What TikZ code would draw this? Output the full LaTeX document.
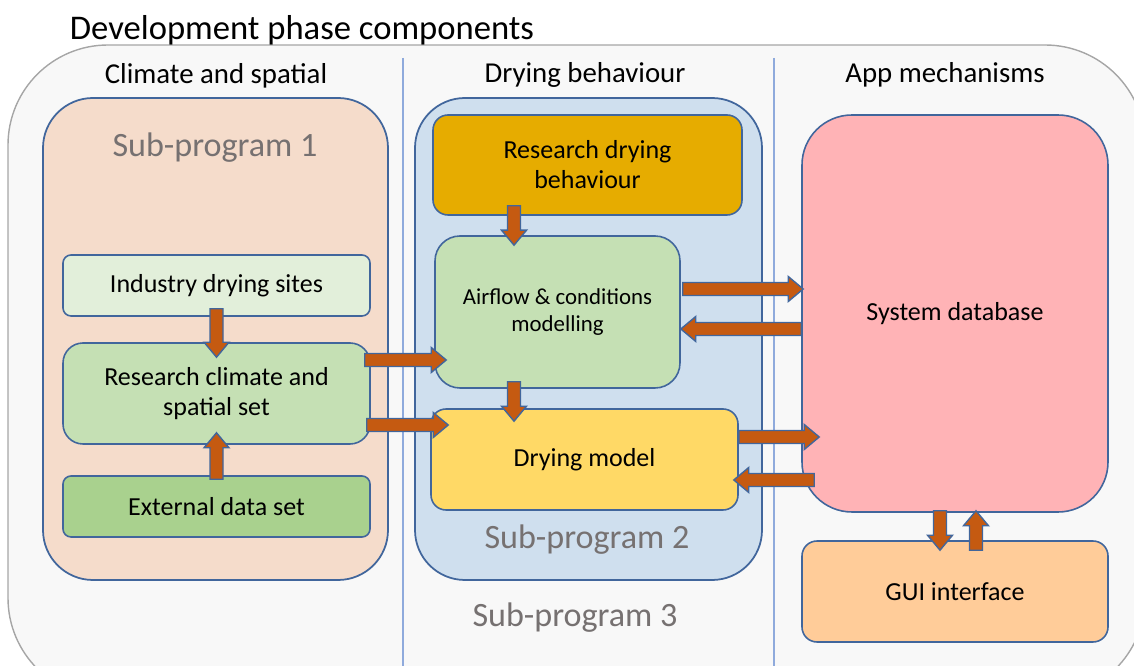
\documentclass[tikz,border=0pt]{standalone}
\usepackage{fontspec}
\setmainfont{Carlito}
\usetikzlibrary{calc}

\definecolor{outerfill}{HTML}{F8F8F8}
\definecolor{outerline}{HTML}{A6A6A6}
\definecolor{divline}{HTML}{8FAADC}
\definecolor{boxline}{HTML}{41669C}
\definecolor{spone}{HTML}{F5DCCB}
\definecolor{sptwo}{HTML}{CFDFEE}
\definecolor{lightgreen}{HTML}{E2EFDA}
\definecolor{midgreen}{HTML}{C5E0B4}
\definecolor{darkgreen}{HTML}{A9D18E}
\definecolor{gold}{HTML}{E6AC00}
\definecolor{paleyellow}{HTML}{FFD966}
\definecolor{pink}{HTML}{FFB3B6}
\definecolor{peach}{HTML}{FFCC99}
\definecolor{rust}{HTML}{C55A11}
\definecolor{labelgrey}{HTML}{767171}

\tikzstyle{panel}=[draw=boxline,line width=1pt,rounded corners=1cm,inner sep=0pt]
\tikzstyle{block}=[draw=boxline,line width=0.9pt,align=center,inner sep=0pt,font=\fontsize{14.8}{17}\selectfont]
\tikzstyle{header}=[font=\fontsize{16.4}{19}\selectfont]
\tikzstyle{sublabel}=[text=labelgrey,font=\fontsize{19.4}{23}\selectfont]
\tikzstyle{divider}=[draw=divline,line width=0.8pt]
\tikzstyle{arrowbody}=[fill=rust,draw=boxline,line width=0.8pt,line join=miter]

% fat block arrow from #1 to #2
\newcommand{\blockarrow}[2]{%
  \path[arrowbody] let \p1=#1, \p2=#2,
    \n1={atan2(\y2-\y1,\x2-\x1)}, \n2={veclen(\x2-\x1,\y2-\y1)} in
    ([shift={(\p1)},rotate=\n1]0pt,0.13cm) -- ([shift={(\p1)},rotate=\n1]\n2-0.3cm,0.13cm)
    -- ([shift={(\p1)},rotate=\n1]\n2-0.3cm,0.25cm) -- (\p2)
    -- ([shift={(\p1)},rotate=\n1]\n2-0.3cm,-0.25cm) -- ([shift={(\p1)},rotate=\n1]\n2-0.3cm,-0.13cm)
    -- ([shift={(\p1)},rotate=\n1]0pt,-0.13cm) -- cycle;}

\begin{document}
\begin{tikzpicture}
\useasboundingbox (0,0) rectangle (22.68,-13.32);
\clip (0,0) rectangle (22.68,-13.32);

% big background frame
\draw[fill=outerfill,draw=outerline,line width=0.8pt,rounded corners=2cm] (0.16,-0.9) rectangle (22.9,-13.96);
\node[font=\fontsize{19.7}{23}\selectfont] (title) at (6.04,-0.6) {Development phase components};

\draw[divider] (8.06,-1.16) -- (8.06,-13.4);
\draw[divider] (15.48,-1.16) -- (15.48,-13.4);

\node[header] (hclim) at (4.32,-1.52) {Climate and spatial};
\node[header] (hdry) at (11.7,-1.5) {Drying behaviour};
\node[header] (happ) at (18.9,-1.5) {App mechanisms};

% sub-programs
\node[panel,fill=spone,minimum width=6.9cm,minimum height=9.64cm] (sp1) at (4.31,-6.78) {};
\node[panel,fill=sptwo,minimum width=6.94cm,minimum height=9.64cm] (sp2) at (11.77,-6.78) {};
\node[sublabel] (sp1lab) at (4.3,-2.96) {Sub-program 1};
\node[sublabel] (sp2lab) at (11.74,-10.8) {Sub-program 2};
\node[sublabel] (sp3lab) at (11.5,-12.36) {Sub-program 3};

% climate and spatial column
\node[block,fill=lightgreen,rounded corners=0.16cm,minimum width=6.14cm,minimum height=1.22cm] (ind) at (4.33,-5.71) {Industry drying sites};
\node[block,fill=midgreen,rounded corners=0.4cm,minimum width=6.14cm,minimum height=2.02cm] (clim) at (4.33,-7.87) {Research climate and\\spatial set};
\node[block,fill=darkgreen,rounded corners=0.16cm,minimum width=6.14cm,minimum height=1.22cm] (ext) at (4.33,-10.13) {External data set};

% drying behaviour column
\node[block,fill=gold,rounded corners=0.3cm,minimum width=6.18cm,minimum height=2cm] (resdry) at (11.75,-3.3) {Research drying\\behaviour};
\node[block,fill=midgreen,rounded corners=0.5cm,minimum width=4.9cm,minimum height=3.04cm,font=\fontsize{13}{15.4}\selectfont] (air) at (11.15,-6.24) {Airflow \& conditions\\modelling};
\node[block,fill=paleyellow,rounded corners=0.3cm,minimum width=6.14cm,minimum height=2.02cm] (drymod) at (11.69,-9.19) {Drying model};

% app mechanisms column
\node[block,fill=pink,rounded corners=1cm,minimum width=6.12cm,minimum height=7.94cm] (sysdb) at (19.1,-6.27) {System database};
\node[block,fill=peach,rounded corners=0.3cm,minimum width=6.12cm,minimum height=2.02cm] (gui) at (19.1,-11.83) {GUI interface};

% arrows
\blockarrow{([yshift=0.16cm]ind.south)}{([yshift=-0.3cm]clim.north)}
\blockarrow{([yshift=-0.08cm]ext.north)}{([yshift=0.24cm]clim.south)}
\blockarrow{([xshift=-1.47cm,yshift=0.2cm]resdry.south)}{([xshift=-0.87cm,yshift=-0.2cm]air.north)}
\blockarrow{([xshift=-0.87cm,yshift=0.14cm]air.south)}{([xshift=-1.41cm,yshift=-0.26cm]drymod.north)}
\blockarrow{([xshift=-0.12cm,yshift=0.67cm]clim.east)}{([xshift=0.24cm,yshift=-0.96cm]air.west)}
\blockarrow{([xshift=-0.08cm,yshift=-0.63cm]clim.east)}{([xshift=0.36cm,yshift=0.69cm]drymod.west)}
\blockarrow{([xshift=0.04cm,yshift=0.46cm]air.east)}{([xshift=0.04cm,yshift=0.49cm]sysdb.west)}
\blockarrow{([yshift=-0.31cm]sysdb.west)}{([yshift=-0.34cm]air.east)}
\blockarrow{([yshift=0.45cm]drymod.east)}{([xshift=0.36cm,yshift=-2.47cm]sysdb.west)}
\blockarrow{([xshift=0.26cm,yshift=-3.33cm]sysdb.west)}{([xshift=-0.1cm,yshift=-0.41cm]drymod.east)}
\blockarrow{([xshift=-0.3cm,yshift=0.04cm]sysdb.south)}{([xshift=-0.3cm,yshift=-0.2cm]gui.north)}
\blockarrow{([xshift=0.42cm,yshift=-0.2cm]gui.north)}{([xshift=0.42cm,yshift=0.04cm]sysdb.south)}

\end{tikzpicture}
\end{document}
